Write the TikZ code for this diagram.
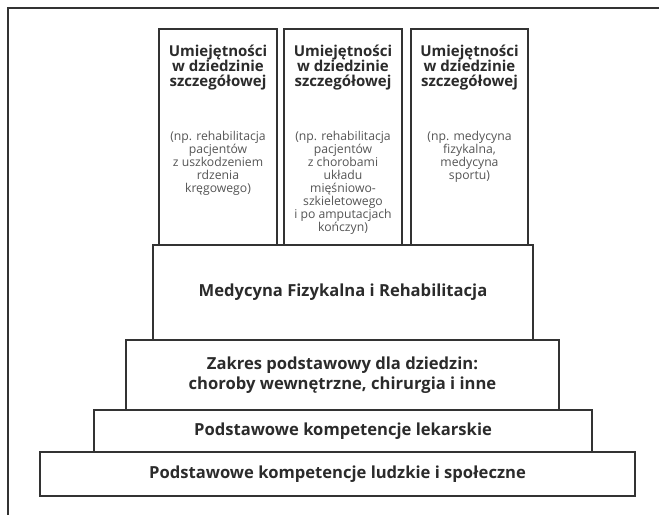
\documentclass[tikz,border=0pt]{standalone}
\usepackage{fontspec}
\setmainfont{Open Sans}
\definecolor{ink}{HTML}{2B2B2B}
\definecolor{note}{HTML}{555555}
\definecolor{rule}{HTML}{333333}
\begin{document}
\begin{tikzpicture}[x=1pt,y=-1pt,
  tier/.style={draw=rule,line width=1.2pt,fill=white,inner sep=0pt},
  title/.style={text=ink,font=\bfseries\fontsize{16.6}{19.5}\selectfont,align=center,inner sep=0pt},
  head/.style={text=ink,font=\bfseries\fontsize{15}{15.3}\selectfont,align=center,inner sep=0pt,anchor=north},
  note/.style={text=note,font=\fontsize{12.2}{12.9}\selectfont,align=center,inner sep=0pt,anchor=north}]
\useasboundingbox (0,0) rectangle (659,515);
% open frame: top and left edges only
\draw[rule,line width=1.4pt] (659,8) -- (8,8) -- (8,515);

% three specialist columns
\node[tier,minimum width=118pt,minimum height=216pt] (spec1) at (218,137) {};
\node[tier,minimum width=118pt,minimum height=216pt] (spec2) at (343,137) {};
\node[tier,minimum width=117pt,minimum height=216pt] (spec3) at (469.5,137) {};

\foreach \s in {spec1,spec2,spec3}{
  \node[head] (\s-head) at ([yshift=-16pt]\s.north) {Umiejętności\\w dziedzinie\\szczegółowej};
}
\node[note] (spec1-note) at ([yshift=-103pt]spec1.north) {(np. rehabilitacja\\pacjentów\\z uszkodzeniem\\rdzenia\\kręgowego)};
\node[note] (spec2-note) at ([yshift=-103pt]spec2.north) {(np. rehabilitacja\\pacjentów\\z chorobami\\układu\\mięśniowo-\\szkieletowego\\i po amputacjach\\kończyn)};
\node[note] (spec3-note) at ([yshift=-103pt]spec3.north) {(np. medycyna\\fizykalna,\\medycyna\\sportu)};

% stacked tiers of the pyramid
\node[tier,minimum width=380pt,minimum height=95pt] (fm) at (343,292.5) {};
\node[title] (fm-text) at (fm.center) {Medycyna Fizykalna i Rehabilitacja};

\node[tier,minimum width=433pt,minimum height=70pt] (core) at (342.5,375) {};
\node[title] (core-text) at (core.center) {Zakres podstawowy dla dziedzin:\\choroby wewnętrzne, chirurgia i inne};

\node[tier,minimum width=498pt,minimum height=42pt] (med) at (343,431) {};
\node[title] (med-text) at (med.center) {Podstawowe kompetencje lekarskie};

\node[tier,minimum width=595pt,minimum height=44pt] (soc) at (337.5,474) {};
\node[title] (soc-text) at (soc.center) {Podstawowe kompetencje ludzkie i społeczne};
\end{tikzpicture}
\end{document}
